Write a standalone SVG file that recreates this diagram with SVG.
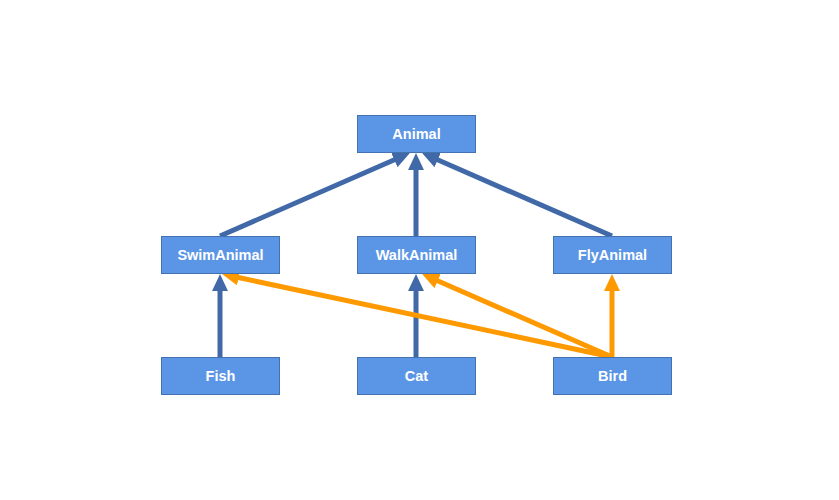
<svg xmlns="http://www.w3.org/2000/svg" width="839" height="500" viewBox="0 0 839 500">
<style>
.node rect{fill:#5B95E5;stroke:#4472B0;stroke-width:1}
.node text{font-family:"Liberation Sans",Arial,sans-serif;font-weight:bold;font-size:14.5px;fill:#fff;text-anchor:middle}
.b{stroke:#4169A8;stroke-width:5;fill:none;marker-end:url(#ab)}
.o{stroke:#FF9900;stroke-width:5;fill:none;marker-end:url(#ao)}
</style>
<defs>
<marker id="ab" viewBox="0 0 10 10" refX="3" refY="5" markerWidth="3.4" markerHeight="3.2" markerUnits="strokeWidth" orient="auto" preserveAspectRatio="none"><path d="M0,0L10,5L0,10z" fill="#4169A8"/></marker>
<marker id="ao" viewBox="0 0 10 10" refX="3" refY="5" markerWidth="3.4" markerHeight="3.2" markerUnits="strokeWidth" orient="auto" preserveAspectRatio="none"><path d="M0,0L10,5L0,10z" fill="#FF9900"/></marker>
</defs>
<rect width="839" height="500" fill="#fff"/>
<g id="connectors">
<line class="b" x1="220" y1="236" x2="399" y2="157.8"/>
<line class="b" x1="416" y1="236" x2="416" y2="165"/>
<line class="b" x1="612" y1="236" x2="433" y2="157.8"/>
<line class="b" x1="220" y1="357" x2="220" y2="286"/>
<line class="b" x1="416" y1="357" x2="416" y2="286"/>
<line class="o" x1="612" y1="357" x2="233.7" y2="276.5"/>
<line class="o" x1="612" y1="357" x2="433" y2="278.8"/>
<line class="o" x1="612" y1="357" x2="612" y2="286"/>
</g>
<g id="Animal" class="node"><rect x="357.5" y="115.5" width="118" height="37"/><text x="416.5" y="139">Animal</text></g>
<g id="SwimAnimal" class="node"><rect x="161.5" y="236.5" width="118" height="37"/><text x="220.5" y="260">SwimAnimal</text></g>
<g id="WalkAnimal" class="node"><rect x="357.5" y="236.5" width="118" height="37"/><text x="416.5" y="260">WalkAnimal</text></g>
<g id="FlyAnimal" class="node"><rect x="553.5" y="236.5" width="118" height="37"/><text x="612.5" y="260">FlyAnimal</text></g>
<g id="Fish" class="node"><rect x="161.5" y="357.5" width="118" height="37"/><text x="220.5" y="381">Fish</text></g>
<g id="Cat" class="node"><rect x="357.5" y="357.5" width="118" height="37"/><text x="416.5" y="381">Cat</text></g>
<g id="Bird" class="node"><rect x="553.5" y="357.5" width="118" height="37"/><text x="612.5" y="381">Bird</text></g>
</svg>
